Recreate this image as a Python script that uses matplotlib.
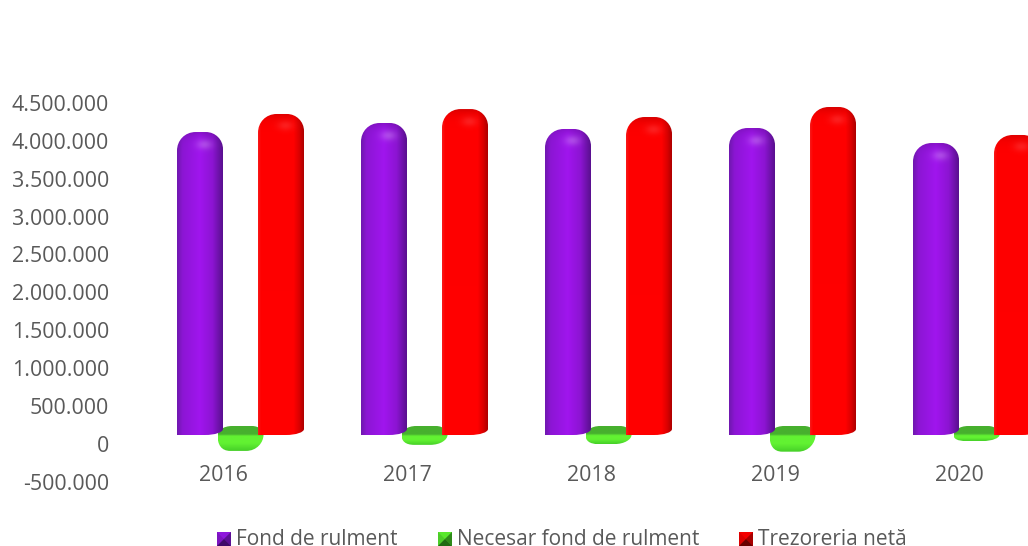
import numpy as np
import matplotlib
matplotlib.use("Agg")
import matplotlib.pyplot as plt
from matplotlib.path import Path
from matplotlib.patches import PathPatch, Polygon
from matplotlib.colors import to_rgb
from matplotlib.transforms import ScaledTranslation

plt.rcParams['font.family'] = ['Open Sans', 'DejaVu Sans']

# Data
years = ['2016', '2017', '2018', '2019', '2020']
fond = [3997000, 4116000, 4037000, 4050000, 3852000]
necesar = [-210000, -130000, -120000, -220000, -80000]
trezorerie = [4235000, 4300000, 4195000, 4327000, 3958000]
yticks = [-500000, 0, 500000, 1000000, 1500000, 2000000, 2500000, 3000000, 3500000, 4000000, 4500000]
ylabels = ['-500.000', '0', '500.000', '1.000.000', '1.500.000', '2.000.000', '2.500.000',
           '3.000.000', '3.500.000', '4.000.000', '4.500.000']

W, H = 1028, 546
PX_Y = 75.8 / 1e6   # pixels per unit
PX_X = 184.0        # pixels per category
BAR_W = 46 / PX_X
TXT = '#595959'

fig = plt.figure(figsize=(W / 100, H / 100), dpi=100)
left, right, top, bottom = 112, 1028, 90, 500
ax = fig.add_axes([left / W, 1 - bottom / H, (right - left) / W, (bottom - top) / H])


def top_round_path(x0, x1, y0, y1, rx, ry, brx, bry):
    # bar outline: rounded top, bottom curving up at the right side
    k = 0.55
    v = [(x0, y0), (x1 - brx, y0),
         (x1 - brx * (1 - k), y0), (x1, y0 + bry * (1 - k)), (x1, y0 + bry),
         (x1, y1 - ry),
         (x1, y1 - ry * (1 - k)), (x1 - rx * (1 - k), y1), (x1 - rx, y1),
         (x0 + rx * 1.1, y1),
         (x0 + rx * 0.45, y1), (x0, y1 - ry * 0.5), (x0, y1 - ry * 1.1),
         (x0, y0), (x0, y0)]
    c = [Path.MOVETO, Path.LINETO, Path.CURVE4, Path.CURVE4, Path.CURVE4, Path.LINETO,
         Path.CURVE4, Path.CURVE4, Path.CURVE4, Path.LINETO,
         Path.CURVE4, Path.CURVE4, Path.CURVE4, Path.LINETO, Path.CLOSEPOLY]
    return Path(v, c)


def shaded_bar(xc, value, stops, z, spot_amount):
    x0, x1 = xc - BAR_W / 2, xc + BAR_W / 2
    path = top_round_path(x0, x1, 0, value, 17 / PX_X, 17 / PX_Y, 18 / PX_X, 6 / PX_Y)
    patch = PathPatch(path, facecolor='none', edgecolor='none', zorder=z)
    ax.add_patch(patch)
    nx, ny = 60, 320
    u = np.linspace(0, 1, nx)
    pos = [s[0] for s in stops]
    cols = np.array([to_rgb(s[1]) for s in stops])
    row = np.stack([np.interp(u, pos, cols[:, i]) for i in range(3)], axis=1)
    img = np.repeat(row[None, :, :], ny, axis=0)
    vv = np.linspace(0, value * PX_Y, ny)[:, None]  # pixels below the top
    # darker cap at the very top, soft light spot under it
    img = img * (1 - 0.15 * np.exp(-vv / 5))[:, :, None]
    spot = spot_amount * np.exp(-((u[None, :] - 0.6) * 46 / 8) ** 2 - ((vv - 12) / 5) ** 2)
    img = img + (1 - img) * spot[:, :, None]
    im = ax.imshow(img, extent=[x0, x1, 0, value], origin='upper', aspect='auto',
                   zorder=z, interpolation='bilinear')
    im.set_clip_path(patch)


def green_bar(xc, value, z):
    x0, x1 = xc - BAR_W / 2, xc + BAR_W / 2
    up = 9 / PX_Y
    v = [(x0, 0),
         (x0, up * 0.45), (x0 + 0.12 * BAR_W, up), (x0 + 0.32 * BAR_W, up),
         (x1 - 0.25 * BAR_W, up),
         (x1 - 0.08 * BAR_W, up), (x1, up * 0.4), (x1, 0),
         (x1, value * 0.45), (x1 - 0.14 * BAR_W, value), (x1 - 0.38 * BAR_W, value),
         (x0 + 0.28 * BAR_W, value),
         (x0 + 0.08 * BAR_W, value), (x0, value * 0.6), (x0, 0),
         (x0, 0)]
    c = [Path.MOVETO, Path.CURVE4, Path.CURVE4, Path.CURVE4, Path.LINETO,
         Path.CURVE4, Path.CURVE4, Path.CURVE4,
         Path.CURVE4, Path.CURVE4, Path.CURVE4, Path.LINETO,
         Path.CURVE4, Path.CURVE4, Path.CURVE4, Path.CLOSEPOLY]
    patch = PathPatch(Path(v, c), facecolor='none', edgecolor='none', zorder=z)
    ax.add_patch(patch)
    ys = np.linspace(up, value, 120)[:, None]
    top_c = np.array(to_rgb('#47b02e'))
    body_c = np.array(to_rgb('#62f232'))
    low_c = np.array(to_rgb('#45cf28'))
    mix = np.clip(-ys / (2 / PX_Y) + 0.5, 0, 1)          # dark top face to light body
    low = np.clip((ys - value * 0.5) / (value * 0.5), 0, 1)  # darker towards the bottom
    img = top_c * (1 - mix) + body_c * mix
    img = img * (1 - low) + low_c * low
    img = np.tile(img[:, None, :], (1, 2, 1))
    im = ax.imshow(img, extent=[x0, x1, value, up], origin='upper', aspect='auto',
                   zorder=z, interpolation='bilinear')
    im.set_clip_path(patch)


purple_stops = [(0, '#7018b0'), (0.12, '#8c16d4'), (0.5, '#a015ee'), (0.78, '#8c14d2'), (1, '#5a1090')]
red_stops = [(0, '#f81818'), (0.06, '#ff0000'), (0.78, '#ff0000'), (0.9, '#dc0000'), (1, '#b00000')]

off = 40.5 / PX_X
for i in range(len(years)):
    shaded_bar(i - off, fond[i], purple_stops, 3, 0.22)
    green_bar(i, necesar[i], 2)
    shaded_bar(i + off, trezorerie[i], red_stops, 4, 0.12)

# axes limits mapped from pixels (group 0 centre at 240.5, zero line at 435)
ax.set_xlim((left - 240.5) / PX_X, (right - 240.5) / PX_X)
ax.set_ylim((435 - bottom) / PX_Y, (435 - top) / PX_Y)

for s in ax.spines.values():
    s.set_visible(False)
ax.patch.set_alpha(0)
ax.set_yticks(yticks)
ax.set_yticklabels(ylabels, color=TXT, fontsize=15.4)
ax.set_xticks(range(len(years)))
ax.set_xticklabels(years, color=TXT, fontsize=15.4)
ax.tick_params(axis='both', length=0)
ax.tick_params(axis='y', pad=2)
ax.tick_params(axis='x', pad=-25)

# category and value labels sit off the marks in the original
for lab in ax.get_yticklabels():
    lab.set_transform(lab.get_transform() + ScaledTranslation(0, -9 / 100, fig.dpi_scale_trans))
for lab in ax.get_xticklabels():
    lab.set_transform(lab.get_transform() + ScaledTranslation(-17.5 / 100, 0, fig.dpi_scale_trans))


def legend_box(x, y, size, c_top, c_left, c_right, c_bot):
    def P(px, py):
        return (px / W, 1 - py / H)
    a, b, c, d = P(x, y), P(x + size, y), P(x + size, y + size), P(x, y + size)
    m = P(x + size / 2, y + size / 2)
    fig.add_artist(Polygon((a, b, c, d), closed=True, transform=fig.transFigure, facecolor=c_left, lw=0))
    for pts, col in [((a, b, m), c_top), ((b, c, m), c_right), ((d, c, m), c_bot)]:
        fig.add_artist(Polygon(pts, closed=True, transform=fig.transFigure, facecolor=col, lw=0))


legend_items = ['Fond de rulment', 'Necesar fond de rulment', 'Trezoreria netă']
legend_x = [217, 438, 739]
legend_cols = [('#8e16dc', '#7c14c0', '#5c0f94', '#3f0a68'),
               ('#58e82c', '#4ccc28', '#2f8a1a', '#1f6a12'),
               ('#f40000', '#dc0000', '#a80000', '#680000')]
for name, x, cols in zip(legend_items, legend_x, legend_cols):
    legend_box(x, 532, 14, *cols)
    fig.text((x + 19) / W, 1 - 545 / H, name, color=TXT, fontsize=15, va='baseline', ha='left')

plt.savefig('out.png', dpi=100)
